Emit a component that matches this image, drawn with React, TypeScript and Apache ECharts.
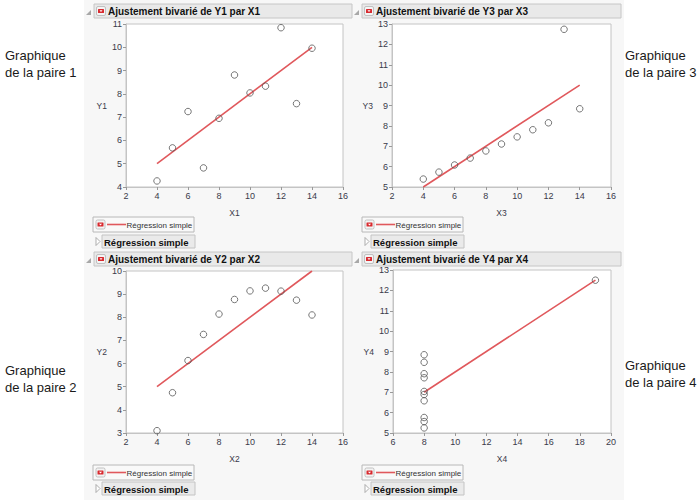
import React, { useEffect, useRef } from "react";
import * as echarts from "echarts";

// ---- Data (Anscombe's quartet) ----
const X123 = [10, 8, 13, 9, 11, 14, 6, 4, 12, 7, 5];
const Y1 = [8.04, 6.95, 7.58, 8.81, 8.33, 9.96, 7.24, 4.26, 10.84, 4.82, 5.68];
const Y2 = [9.14, 8.14, 8.74, 8.77, 9.26, 8.1, 6.13, 3.1, 9.13, 7.26, 4.74];
const Y3 = [7.46, 6.77, 12.74, 7.11, 7.81, 8.84, 6.08, 5.39, 8.15, 6.42, 5.73];
const X4 = [8, 8, 8, 8, 8, 8, 8, 19, 8, 8, 8];
const Y4 = [6.58, 5.76, 7.71, 8.84, 8.47, 7.04, 5.25, 12.5, 5.56, 7.91, 6.89];

// Fitted simple-regression line end points
const FIT_X123 = [4, 14];
const FIT_Y123 = [5.0, 10.0];
const FIT_X4 = [8, 19];
const FIT_Y4 = [7.0, 12.5];

// Axis ranges
const X_RANGE_123 = [2, 16];
const X_RANGE_4 = [6, 20];
const Y_RANGE_1 = [4, 11];
const Y_RANGE_2 = [3, 10];
const Y_RANGE_3 = [5, 13];
const Y_RANGE_4 = [5, 13];

const TITLES = [
  "Ajustement bivarié de Y1 par X1",
  "Ajustement bivarié de Y2 par X2",
  "Ajustement bivarié de Y3 par X3",
  "Ajustement bivarié de Y4 par X4",
];
const X_NAMES = ["X1", "X2", "X3", "X4"];
const Y_NAMES = ["Y1", "Y2", "Y3", "Y4"];
const LEGEND_TEXT = "Régression simple";
const SIDE_LABELS = [
  ["Graphique", "de la paire 1"],
  ["Graphique", "de la paire 2"],
  ["Graphique", "de la paire 3"],
  ["Graphique", "de la paire 4"],
];

const zip = (xs: number[], ys: number[]) => xs.map((x, i) => [x, ys[i]]);

const FONT = "'Liberation Sans', Arial, sans-serif";
const RED = "#e0585c";

export default function App() {
  const ref = useRef<HTMLDivElement>(null);

  useEffect(() => {
    document.body.style.margin = "0";
    if (!ref.current) return;
    const chart = echarts.init(ref.current, undefined, { renderer: "svg" });

    const panels = [
      { g: { left: 126, top: 24, width: 217, height: 163 }, hx: 94, hw: 258, hy: 4, lx: 93, ly: 217, by: 235, xr: X_RANGE_123, yr: Y_RANGE_1, pts: zip(X123, Y1), fit: zip(FIT_X123, FIT_Y123) },
      { g: { left: 126, top: 271, width: 217, height: 162 }, hx: 94, hw: 258, hy: 252, lx: 93, ly: 465, by: 482, xr: X_RANGE_123, yr: Y_RANGE_2, pts: zip(X123, Y2), fit: zip(FIT_X123, FIT_Y123) },
      { g: { left: 392, top: 24, width: 219, height: 163 }, hx: 362, hw: 259, hy: 4, lx: 362, ly: 217, by: 235, xr: X_RANGE_123, yr: Y_RANGE_3, pts: zip(X123, Y3), fit: zip(FIT_X123, FIT_Y123) },
      { g: { left: 393, top: 270, width: 218, height: 163 }, hx: 362, hw: 259, hy: 252, lx: 362, ly: 465, by: 482, xr: X_RANGE_4, yr: Y_RANGE_4, pts: zip(X4, Y4), fit: zip(FIT_X4, FIT_Y4) },
    ];

    const grid: any[] = [];
    const xAxis: any[] = [];
    const yAxis: any[] = [];
    const series: any[] = [];
    const graphic: any[] = [];

    graphic.push({
      type: "rect",
      shape: { x: 84, y: 0, width: 540, height: 500 },
      style: { fill: "#f7f7f7" },
      silent: true,
      z: -10,
    });

    const axisCommon = {
      axisLine: { show: true, lineStyle: { color: "#c4c4c4" } },
      axisTick: { show: true, length: 3, lineStyle: { color: "#999" } },
      axisLabel: { fontSize: 9, color: "#3a3a4a", fontFamily: FONT, margin: 4 },
      splitLine: { show: false },
      nameTextStyle: { fontSize: 8.5, color: "#3a3a4a", fontFamily: FONT },
    };

    const redButton = (x: number, y: number) => [
      {
        type: "rect",
        shape: { x, y, width: 9, height: 9, r: 1.5 },
        style: { fill: "#f4f4f4", stroke: "#b4b4b4", lineWidth: 0.8 },
      },
      {
        type: "rect",
        shape: { x: x + 1.5, y: y + 2.5, width: 6, height: 4, r: 0.5 },
        style: { fill: "#d82a2f" },
      },
      {
        type: "polygon",
        shape: { points: [[x + 3, y + 3.8], [x + 6, y + 3.8], [x + 4.5, y + 5.4]] },
        style: { fill: "#fff" },
      },
    ];

    panels.forEach((p, i) => {
      grid.push({
        ...p.g,
        show: true,
        backgroundColor: "#ffffff",
        borderColor: "#c4c4c4",
        borderWidth: 1,
        containLabel: false,
      });
      xAxis.push({
        type: "value",
        gridIndex: i,
        min: p.xr[0],
        max: p.xr[1],
        interval: 2,
        name: X_NAMES[i],
        nameLocation: "middle",
        nameGap: 21,
        ...axisCommon,
      });
      yAxis.push({
        type: "value",
        gridIndex: i,
        min: p.yr[0],
        max: p.yr[1],
        interval: 1,
        name: Y_NAMES[i],
        nameLocation: "middle",
        nameRotate: 0,
        nameGap: 19,
        ...axisCommon,
      });
      series.push({
        type: "scatter",
        xAxisIndex: i,
        yAxisIndex: i,
        data: p.pts,
        symbol: "circle",
        symbolSize: 6.5,
        itemStyle: { color: "rgba(255,255,255,0)", borderColor: "#555", borderWidth: 1 },
        z: 3,
      });
      series.push({
        type: "line",
        xAxisIndex: i,
        yAxisIndex: i,
        data: p.fit,
        showSymbol: false,
        lineStyle: { color: RED, width: 1.6 },
        z: 2,
      });

      // header bar
      graphic.push({
        type: "polygon",
        shape: { points: [[p.hx - 8, p.hy + 11], [p.hx - 3, p.hy + 11], [p.hx - 3, p.hy + 6]] },
        style: { fill: "#a8a8a8" },
        z: 5,
      });
      graphic.push({
        type: "rect",
        shape: { x: p.hx, y: p.hy, width: p.hw, height: 14 },
        style: { fill: "#e9e9e9", stroke: "#c6c6c6", lineWidth: 1 },
      });
      graphic.push(...redButton(p.hx + 2.5, p.hy + 2.5));
      graphic.push({
        type: "text",
        x: p.hx + 14,
        y: p.hy + 7.5,
        style: {
          text: TITLES[i],
          font: `bold 10px ${FONT}`,
          fill: "#111",
          verticalAlign: "middle",
        },
      });

      // legend box
      graphic.push({
        type: "rect",
        shape: { x: p.lx, y: p.ly, width: 101, height: 15 },
        style: { fill: "#f9f9f9", stroke: "#b8b8b8", lineWidth: 1 },
      });
      graphic.push(...redButton(p.lx + 3, p.ly + 3));
      graphic.push({
        type: "line",
        shape: { x1: p.lx + 14, y1: p.ly + 7.5, x2: p.lx + 33, y2: p.ly + 7.5 },
        style: { stroke: RED, lineWidth: 1.6 },
      });
      graphic.push({
        type: "text",
        x: p.lx + 33.5,
        y: p.ly + 8,
        style: {
          text: LEGEND_TEXT,
          font: `8px ${FONT}`,
          fill: "#333",
          verticalAlign: "middle",
        },
      });

      // bold outline box
      graphic.push({
        type: "polygon",
        shape: { points: [[p.lx + 3, p.by + 2.5], [p.lx + 3, p.by + 10.5], [p.lx + 7, p.by + 6.5]] },
        style: { fill: "#fff", stroke: "#999", lineWidth: 0.8 },
      });
      graphic.push({
        type: "rect",
        shape: { x: p.lx + 9, y: p.by, width: 93, height: 13 },
        style: { fill: "#eaeaea", stroke: "#c4c4c4", lineWidth: 1 },
      });
      graphic.push({
        type: "text",
        x: p.lx + 11,
        y: p.by + 7,
        style: {
          text: LEGEND_TEXT,
          font: `bold 9.5px ${FONT}`,
          fill: "#111",
          verticalAlign: "middle",
        },
      });
    });

    // side labels (y = centre of the two-line block)
    const sidePos = [
      { x: 5, y: 64 },
      { x: 5, y: 379 },
      { x: 625, y: 64 },
      { x: 625, y: 374 },
    ];
    sidePos.forEach((s, i) => {
      graphic.push({
        type: "text",
        x: s.x,
        y: s.y,
        style: {
          text: SIDE_LABELS[i].join("\n"),
          font: `13px ${FONT}`,
          fill: "#1a1a1a",
          lineHeight: 16.5,
          verticalAlign: "middle",
        },
      });
    });

    chart.setOption({
      animation: false,
      backgroundColor: "#ffffff",
      grid,
      xAxis,
      yAxis,
      series,
      graphic: { elements: graphic },
    });

    return () => chart.dispose();
  }, []);

  return <div ref={ref} style={{ width: 700, height: 500 }} />;
}
